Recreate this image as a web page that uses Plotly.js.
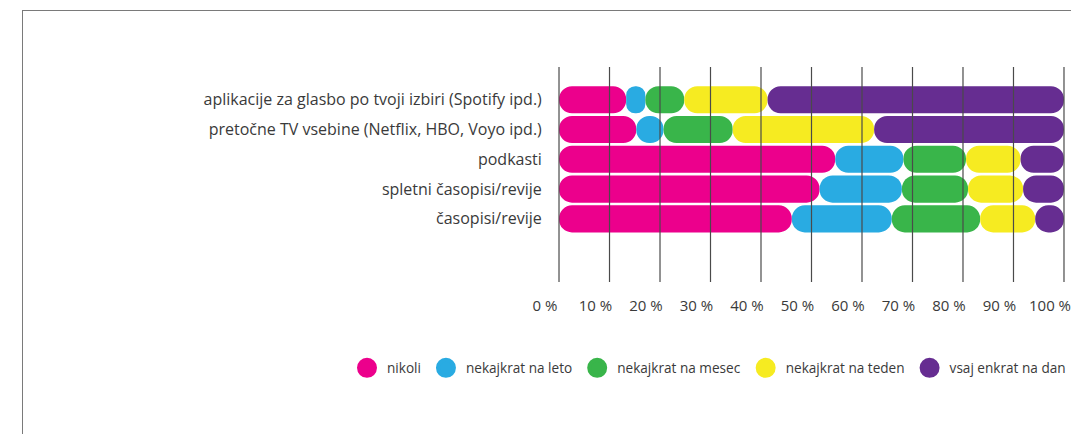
<!DOCTYPE html>
<html><head><meta charset="utf-8">
<script src="https://cdn.plot.ly/plotly-3.0.1.min.js"></script>
<style>
html,body{margin:0;padding:0;background:#fff;}
#wrap{position:relative;width:1071px;height:434px;overflow:hidden;}
#chart{width:1071px;height:434px;}
#frame{position:absolute;left:22px;top:10px;right:-5px;bottom:-5px;border-left:1.5px solid #7a7a7a;border-top:1.5px solid #7a7a7a;pointer-events:none;}
</style></head><body>
<div id="wrap"><div id="chart"></div><div id="frame"></div></div>
<script>
// ---- data ----
const categories = [
  'aplikacije za glasbo po tvoji izbiri (Spotify ipd.)',
  'pretočne TV vsebine (Netflix, HBO, Voyo ipd.)',
  'podkasti',
  'spletni časopisi/revije',
  'časopisi/revije'
];
const nikoli = [13.3, 15.3, 54.7, 51.6, 46.1];
const nekajkratNaLeto = [3.8, 5.4, 13.5, 16.3, 19.8];
const nekajkratNaMesec = [7.7, 13.7, 12.4, 13.1, 17.5];
const nekajkratNaTeden = [16.5, 28.0, 10.8, 10.9, 10.9];
const vsajEnkratNaDan = [58.7, 37.6, 8.6, 8.1, 5.7];
const seriesNames = ['nikoli', 'nekajkrat na leto', 'nekajkrat na mesec', 'nekajkrat na teden', 'vsaj enkrat na dan'];
const tickValues = [0, 10, 20, 30, 40, 50, 60, 70, 80, 90, 100];
const tickLabels = ['0 %', '10 %', '20 %', '30 %', '40 %', '50 %', '60 %', '70 %', '80 %', '90 %', '100 %'];

// ---- styling ----
const colors = ['#EC008C', '#29ABE2', '#39B54A', '#F6EB21', '#662D91'];
const seriesValues = [nikoli, nekajkratNaLeto, nekajkratNaMesec, nekajkratNaTeden, vsajEnkratNaDan];
const FONT = '"Open Sans", "Noto Sans", sans-serif';

const traces = [];
const cum = categories.map(() => 0);
seriesValues.forEach((vals, s) => {
  const starts = cum.slice();
  traces.push({
    type: 'bar', orientation: 'h',
    name: seriesNames[s],
    y: categories,
    x: vals,
    base: starts,
    width: 0.91,
    marker: {color: colors[s], cornerradius: '50%', line: {width: 0}},
    showlegend: false,
    hoverinfo: 'skip'
  });
  vals.forEach((v, i) => { cum[i] += v; });
});
// legend entries (round symbols)
seriesNames.forEach((name, s) => {
  traces.push({
    type: 'scatter', mode: 'markers', name: name,
    x: [null], y: [null],
    marker: {symbol: 'circle', size: 16, color: colors[s], line: {color: colors[s], width: 4}},
    showlegend: true, hoverinfo: 'skip'
  });
});

const gridShapes = tickValues.map(v => ({
  type: 'line', xref: 'x', yref: 'paper', x0: v, x1: v, y0: 0, y1: 1,
  line: {color: '#4a4a4a', width: 1.2}, layer: 'above'
}));

const layout = {
  width: 1071, height: 434,
  margin: {l: 558, r: 6.3, t: 67, b: 152, pad: 0},
  paper_bgcolor: '#fff', plot_bgcolor: '#fff',
  barmode: 'overlay',
  font: {family: FONT, size: 14, color: '#3a3a3a'},
  xaxis: {
    range: [-0.2, 100.2], showgrid: false, zeroline: false, showline: false,
    tickmode: 'array', tickvals: tickValues, ticktext: tickLabels,
    ticks: 'outside', ticklen: 10, tickcolor: 'rgba(0,0,0,0)',
    ticklabelshift: -14, ticklabeloverflow: 'allow',
    tickfont: {family: FONT, size: 15, color: '#3a3a3a'},
    fixedrange: true
  },
  yaxis: {
    type: 'category', range: [6.12, -1.1],
    showgrid: false, zeroline: false, showline: false,
    ticks: 'outside', ticklen: 12, tickcolor: 'rgba(0,0,0,0)',
    tickfont: {family: FONT, size: 16, color: '#3a3a3a'},
    fixedrange: true
  },
  shapes: gridShapes,
  legend: {
    orientation: 'h', x: -0.392, xanchor: 'left', y: -0.4, yanchor: 'middle',
    font: {family: FONT, size: 13.6, color: '#3a3a3a'},
    bgcolor: 'rgba(0,0,0,0)', itemclick: false, itemdoubleclick: false
  },
  showlegend: true
};

Plotly.newPlot('chart', traces, layout, {displayModeBar: false, staticPlot: true});
</script>
</body></html>
